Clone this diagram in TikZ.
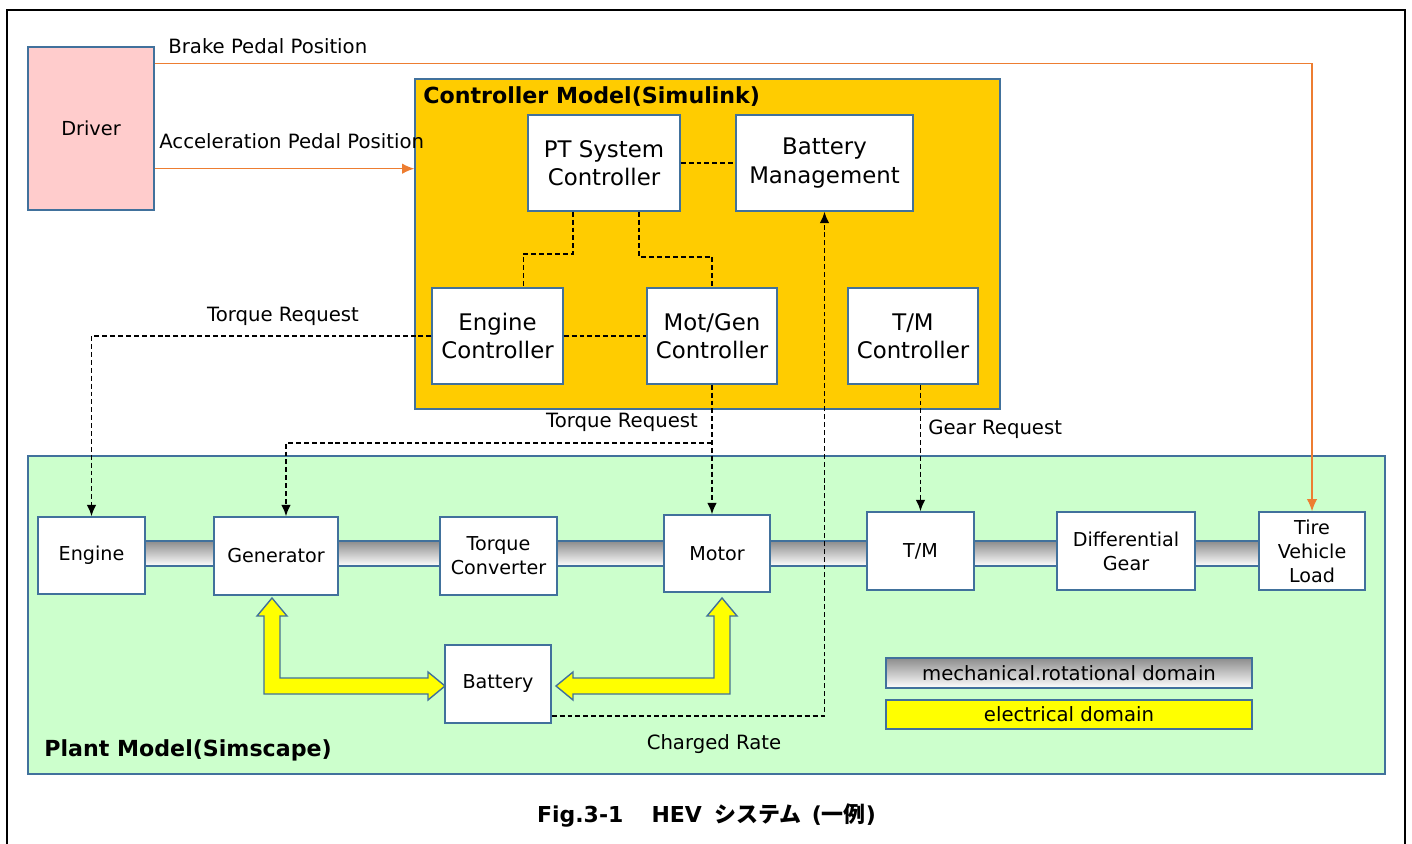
\documentclass[tikz,border=0pt]{standalone}
\usepackage{fontspec}
\setmainfont{DejaVu Sans}
\newfontfamily\jpfont{Noto Sans CJK JP}
\usepackage{tikz}
\usetikzlibrary{positioning,calc,arrows.meta}

\definecolor{bdr}{HTML}{41719C}
\definecolor{pinkbox}{HTML}{FFCCCC}
\definecolor{ctrlfill}{HTML}{FFCC00}
\definecolor{plantfill}{HTML}{CCFFCC}
\definecolor{pedal}{HTML}{ED7D31}
\definecolor{elec}{HTML}{FFFF00}

\begin{document}
\begin{tikzpicture}[x=0.02cm, y=-0.02cm, >={Latex[length=6.5pt,width=5.5pt]},
  blk/.style={draw=bdr, line width=0.8pt, fill=white, inner sep=0pt, align=center},
  cblk/.style={blk, font=\fontsize{13}{16}\selectfont, minimum height=1.92cm},
  pblk/.style={blk, font=\fontsize{10.9}{13.6}\selectfont, minimum height=1.56cm},
  lbl/.style={font=\fontsize{11.2}{13}\selectfont, inner sep=0pt},
  ttl/.style={font=\bfseries\fontsize{12.6}{15}\selectfont, inner sep=0pt, anchor=west},
  sig/.style={line width=1.1pt, dash pattern=on 2.8pt off 1.7pt},
  ped/.style={pedal, line width=0.8pt, >={Latex[length=7pt,width=6pt]}}]
		\useasboundingbox (0,0) rectangle (1412,844);
		\draw[line width=1.3pt] (7,870) -- (7,10) -- (1405,10) -- (1405,870);

		% containers
		\node[draw=bdr, line width=0.8pt, fill=plantfill, minimum width=27.14cm, minimum height=6.36cm] (plant) at (706.5,615) {};
		\node[draw=bdr, line width=0.8pt, fill=ctrlfill, minimum width=11.7cm, minimum height=6.6cm] (ctrl) at (707.5,244) {};
		\node[ttl] at (423,97) {Controller Model(Simulink)};
		\node[ttl] at (44,750) {Plant Model(Simscape)};

		\node[blk, fill=pinkbox, minimum width=2.52cm, minimum height=3.26cm, font=\fontsize{11}{13}\selectfont] (drv) at (91,128.5) {Driver};

		% shaft behind the plant blocks
		\shadedraw[top color=black!45, bottom color=white, draw=bdr, line width=0.6pt] (145,541) rectangle (1259,566);

		% controller blocks
		\node[cblk, minimum width=3.04cm] (pt) at (604,163) {PT System\\Controller};
		\node[cblk, minimum width=3.54cm] (bm) at (824.5,163) {Battery\\Management};
		\node[cblk, minimum width=2.62cm] (ec) at (497.5,336) {Engine\\Controller};
		\node[cblk, minimum width=2.6cm] (mg) at (712,336) {Mot/Gen\\Controller};
		\node[cblk, minimum width=2.6cm] (tmc) at (913,336) {T/M\\Controller};

		% plant blocks
		\node[pblk, minimum width=2.14cm, minimum height=1.54cm] (eng) at (91.5,555.5) {Engine};
		\node[pblk, minimum width=2.48cm] (gen) at (276,556) {Generator};
		\node[pblk, minimum width=2.34cm] (tc) at (498.5,556) {Torque\\Converter};
		\node[pblk, minimum width=2.12cm, minimum height=1.54cm] (mot) at (717,553.5) {Motor};
		\node[pblk, minimum width=2.14cm] (tm) at (920.5,551) {T/M};
		\node[pblk, minimum width=2.76cm] (dg) at (1126,551) {Differential\\Gear};
		\node[pblk, minimum width=2.12cm] (tire) at (1312,551) {Tire\\Vehicle\\Load};
		\node[pblk, minimum width=2.12cm] (bat) at (498,684) {Battery};

		% legend
		\node[lbl, draw=bdr, line width=0.8pt, top color=black!45, bottom color=white, minimum width=7.32cm, minimum height=0.6cm] (mech) at (1069,673) {mechanical.rotational domain};
		\node[lbl, draw=bdr, line width=0.8pt, fill=elec, minimum width=7.32cm, minimum height=0.58cm] (elecl) at (1069,714.5) {electrical domain};

		% electrical links
		\filldraw[fill=elec, draw=bdr, line width=0.8pt, line join=miter] (272,598) -- (287,616) -- (280,616) -- (280,678) -- (428,678) -- (428,672) -- (445,686) -- (428,700) -- (428,694) -- (264,694) -- (264,616) -- (257,616) -- cycle;
		\filldraw[fill=elec, draw=bdr, line width=0.8pt, line join=miter] (722,598) -- (737,616) -- (730,616) -- (730,694) -- (573,694) -- (573,700) -- (556,686) -- (573,672) -- (573,678) -- (714,678) -- (714,616) -- (707,616) -- cycle;

		% pedals
		\draw[ped, ->] ($(drv.north east)+(0,17)$) -| (tire.north);
		\draw[ped, ->] ($(drv.south east)+(0,-42)$) coordinate (acc) -- (acc -| ctrl.west);
		\node[lbl, anchor=west] (brk) at (168,46) {Brake Pedal Position};
		\node[lbl, anchor=west] (acl) at (159,141) {Acceleration Pedal Position};

		% signals
		\draw[sig] (pt.east) -- (bm.west);
		\draw[sig] ($(pt.south)+(-31,0)$) -- ++(0,42) -| ($(ec.north)+(26,0)$);
		\draw[sig] ($(pt.south)+(35,0)$) -- ++(0,45) -| (mg.north);
		\draw[sig] (ec.east) -- (mg.west);
		\draw[sig, ->] (ec.west) -| (eng.north);
		\draw[sig, ->] (mg.south) -- (mg.south |- mot.north);
		\draw[sig, ->] ($(mg.south)+(0,58)$) -| ($(gen.north)+(10,0)$);
		\draw[sig, ->] (tm.north |- tmc.south) -- (tm.north);
		\draw[sig, ->] ($(bat.south east)+(0,-8)$) -| (bm.south);
		\node[lbl] (tq1) at (283,316) {Torque Request};
		\node[lbl] (tq2) at (622,422) {Torque Request};
		\node[lbl, anchor=west] (gear) at (928,429) {Gear Request};
		\node[lbl] (chg) at (714,744) {Charged Rate};

		\node[font=\bfseries\fontsize{12.5}{15}\selectfont] (cap) at (706.5,815) {Fig.3-1\hspace{16pt}HEV\hspace{7pt}{\jpfont システム}\hspace{6pt}({\jpfont 一例})};
	\end{tikzpicture}
\end{document}
